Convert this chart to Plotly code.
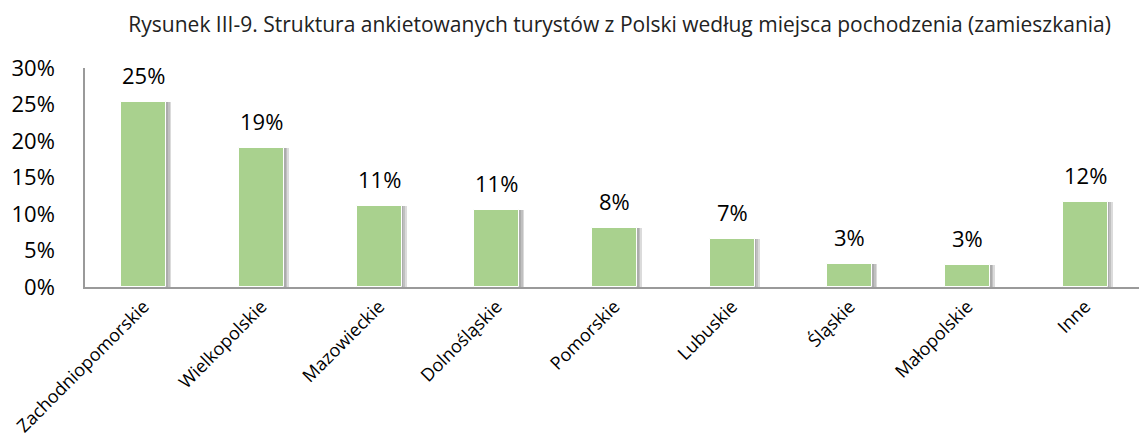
import plotly.graph_objects as go

categories = ["Zachodniopomorskie", "Wielkopolskie", "Mazowieckie", "Dolnośląskie",
              "Pomorskie", "Lubuskie", "Śląskie", "Małopolskie", "Inne"]
values = [25.3, 19.1, 11.1, 10.6, 8.1, 6.6, 3.2, 3.0, 11.6]
labels = ["25%", "19%", "11%", "11%", "8%", "7%", "3%", "3%", "12%"]
yticks = [0, 5, 10, 15, 20, 25, 30]
ytick_text = [f"{t}%" for t in yticks]
title = "Rysunek III-9. Struktura ankietowanych turystów z Polski według miejsca pochodzenia (zamieszkania)"

FONT = "Open Sans"
bw = 0.38

fig = go.Figure()
# soft shadow layers
for i, a in enumerate([0.10, 0.12, 0.14]):
    fig.add_trace(go.Bar(
        x=categories, y=values, width=bw, offset=-bw / 2 + 0.015 * (i + 1),
        marker=dict(color=f"rgba(0,0,0,{a})", line=dict(width=0)),
        hoverinfo="skip", showlegend=False,
    ))
fig.add_trace(go.Bar(
    x=categories, y=values, width=bw, offset=-bw / 2,
    marker=dict(color="#a9d18e", line=dict(color="white", width=1)),
    showlegend=False,
))
for c, v, t in zip(categories, values, labels):
    fig.add_annotation(x=c, y=v, text=t, showarrow=False, yanchor="bottom",
                       yshift=10, font=dict(family=FONT, size=22, color="black"))

fig.update_layout(
    width=1139, height=434,
    margin=dict(l=74, r=3, t=60, b=155),
    paper_bgcolor="white", plot_bgcolor="white",
    barmode="overlay", bargap=0,
    title=dict(text=title, x=0.537, xanchor="center", y=0.962, yanchor="middle",
               font=dict(family=FONT, size=21, color="#222")),
    xaxis=dict(showline=True, linecolor="#9a9a9a", linewidth=2, ticks="",
               tickangle=-45, tickfont=dict(family=FONT, size=18, color="black"),
               showgrid=False),
    yaxis=dict(range=[0, 30], tickvals=yticks, ticktext=ytick_text,
               showline=True, linecolor="#9a9a9a", linewidth=1.5, ticks="",
               ticklabelstandoff=24,
               tickfont=dict(family=FONT, size=22, color="black"),
               showgrid=False, zeroline=False),
)

fig.write_html("out.html")
